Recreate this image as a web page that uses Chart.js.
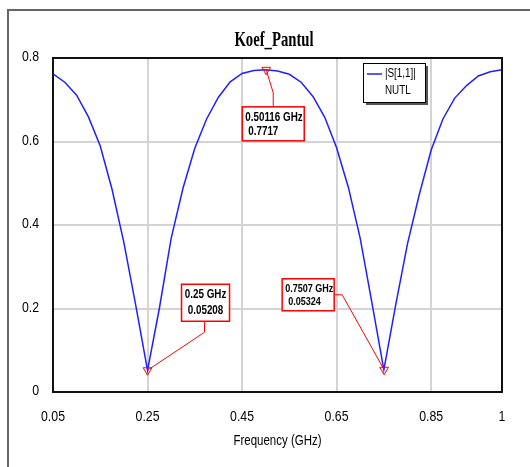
<!DOCTYPE html>
<html>
<head>
<meta charset="utf-8">
<script src="https://cdn.jsdelivr.net/npm/chart.js@4"></script>
<style>
  html, body { margin: 0; padding: 0; background: #fff; }
</style>
</head>
<body>
<canvas id="koef" width="530" height="467"></canvas>
<script>
// frequency sweep (GHz) and |S[1,1]|
const freqs = [0.05, 0.075, 0.1, 0.125, 0.15, 0.175, 0.2, 0.225, 0.25,
  0.275, 0.3, 0.325, 0.35, 0.375, 0.4, 0.425, 0.45, 0.475, 0.5,
  0.525, 0.55, 0.575, 0.6, 0.625, 0.65, 0.675, 0.7, 0.725, 0.75,
  0.775, 0.8, 0.825, 0.85, 0.875, 0.9, 0.925, 0.95, 0.975, 1]
const s11 = [0.762, 0.742, 0.711, 0.659, 0.589, 0.485, 0.358, 0.208, 0.052,
  0.200, 0.368, 0.488, 0.584, 0.654, 0.706, 0.743, 0.763, 0.770, 0.7717,
  0.769, 0.761, 0.742, 0.708, 0.658, 0.585, 0.490, 0.368, 0.212, 0.053,
  0.208, 0.355, 0.473, 0.579, 0.654, 0.704, 0.734, 0.757, 0.767, 0.772]

// markers
const markerFreqs = [0.25, 0.50116, 0.7507]
const markerVals = [0.05208, 0.7717, 0.05324]
const markerText = [['0.25 GHz', '0.05208'], ['0.50116 GHz', '0.7717'], ['0.7507 GHz', '0.05324']]

const xTicks = [0.05, 0.25, 0.45, 0.65, 0.85, 1]
const yTicks = [0, 0.2, 0.4, 0.6, 0.8]

const sans = "'Liberation Sans', Arial, sans-serif"
const SQUEEZE = 0.82 // no narrow font installed, so squash Liberation Sans

// box placement relative to each marker (px); leader goes from marker outward
const boxes = [
  { dx: 34, dy: -86, w: 48, h: 37, leader: [[57, -38], [57, -49]], align: 'center', size: 12 },
  { dx: -24, dy: 37, w: 62, h: 34, leader: [[7, 23], [7, 37]], align: 'left', size: 12 },
  { dx: -102, dy: -91, w: 52, h: 32, leader: [[-42, -75], [-51, -75]], align: 'left', size: 11 }
]

function squeezedText(ctx, text, x, y, font, align, sx) {
  ctx.save()
  ctx.translate(x, y)
  ctx.scale(sx, 1)
  ctx.font = font
  ctx.textAlign = align
  ctx.textBaseline = 'middle'
  ctx.fillText(text, 0, 0)
  ctx.restore()
}

const decor = {
  id: 'decor',
  beforeDraw(chart) {
    const ctx = chart.ctx
    ctx.save()
    // outer frame
    ctx.strokeStyle = '#666'
    ctx.lineWidth = 2
    ctx.beginPath()
    ctx.moveTo(8, 467)
    ctx.lineTo(8, 10)
    ctx.lineTo(530, 10)
    ctx.stroke()
    ctx.fillStyle = '#000'
    // title, condensed serif
    squeezedText(ctx, 'Koef_Pantul', 274, 41, "bold 21px 'Liberation Serif', serif", 'center', 0.7)
    ctx.restore()
  },
  afterDatasetsDraw(chart) {
    const ctx = chart.ctx
    const a = chart.chartArea
    const xs = chart.scales.x, ys = chart.scales.y
    ctx.save()
    // plot border
    ctx.strokeStyle = '#111'
    ctx.lineWidth = 2
    ctx.strokeRect(a.left, a.top, a.right - a.left, a.bottom - a.top)

    // tick labels and axis title
    ctx.fillStyle = '#000'
    xTicks.forEach(v => {
      squeezedText(ctx, String(v), xs.getPixelForValue(v), a.bottom + 25, '15px ' + sans, 'center', SQUEEZE)
    })
    yTicks.forEach(v => {
      squeezedText(ctx, String(v), a.left - 14, ys.getPixelForValue(v) - 1, '15px ' + sans, 'right', SQUEEZE)
    })
    squeezedText(ctx, 'Frequency (GHz)', (a.left + a.right) / 2, a.bottom + 49, '14px ' + sans, 'center', SQUEEZE)

    // marker boxes
    markerFreqs.forEach((f, i) => {
      const px = xs.getPixelForValue(f)
      const py = ys.getPixelForValue(markerVals[i])
      const b = boxes[i]
      ctx.strokeStyle = '#f00'
      ctx.lineWidth = 1
      ctx.beginPath()
      ctx.moveTo(px, py)
      b.leader.forEach(p => ctx.lineTo(px + p[0], py + p[1]))
      ctx.stroke()
      const bx = px + b.dx, by = py + b.dy
      ctx.fillStyle = '#fff'
      ctx.fillRect(bx, by, b.w, b.h)
      ctx.lineWidth = 1.5
      ctx.strokeRect(bx, by, b.w, b.h)
      ctx.fillStyle = '#000'
      const font = 'bold ' + b.size + 'px ' + sans
      const lines = markerText[i]
      if (b.align === 'center') {
        squeezedText(ctx, lines[0], bx + b.w / 2, by + b.h * 0.28, font, 'center', SQUEEZE)
        squeezedText(ctx, lines[1], bx + b.w / 2, by + b.h * 0.72, font, 'center', SQUEEZE)
      } else {
        squeezedText(ctx, lines[0], bx + 3, by + b.h * 0.32, font, 'left', SQUEEZE)
        squeezedText(ctx, lines[1], bx + 6, by + b.h * 0.74, font, 'left', SQUEEZE)
      }
    })

    // legend
    ctx.fillStyle = '#555'
    ctx.fillRect(366, 66, 62, 39)
    ctx.fillStyle = '#fff'
    ctx.fillRect(363, 63, 62, 39)
    ctx.strokeStyle = '#000'
    ctx.lineWidth = 1
    ctx.strokeRect(363.5, 63.5, 62, 39)
    ctx.strokeStyle = '#2020ff'
    ctx.lineWidth = 1.5
    ctx.beginPath()
    ctx.moveTo(367, 74)
    ctx.lineTo(382, 74)
    ctx.stroke()
    ctx.fillStyle = '#000'
    squeezedText(ctx, '|S[1,1]|', 385, 74, '12px ' + sans, 'left', SQUEEZE)
    squeezedText(ctx, 'NUTL', 385, 91, '12px ' + sans, 'left', SQUEEZE)
    ctx.restore()
  }
}

const ctxKoef = document.getElementById('koef')
if(ctxKoef) {
  const koef = {
    type: 'scatter',
    data: {
      datasets: [
        {
          label: '|S[1,1]|',
          data: freqs.map((f, i) => ({ x: f, y: s11[i] })),
          showLine: true,
          borderColor: '#2020ff',
          borderWidth: 1.5,
          pointRadius: 0,
          tension: 0,
          order: 2,
        },
        {
          label: 'markers',
          data: markerFreqs.map((f, i) => ({ x: f, y: markerVals[i] })),
          showLine: false,
          pointStyle: 'triangle',
          rotation: 180,
          pointRadius: 5,
          borderColor: '#f00',
          borderWidth: 1,
          backgroundColor: 'rgba(0,0,0,0)',
          order: 1,
        },
      ],
    },
    options: {
      responsive: false,
      animation: false,
      layout: { padding: { top: 58, right: 28, left: 0, bottom: 0 } },
      plugins: {
        legend: { display: false },
        title: { display: false },
        tooltip: { enabled: false },
      },
      scales: {
        x: {
          type: 'linear',
          min: 0.05,
          max: 1,
          afterBuildTicks: s => { s.ticks = xTicks.map(v => ({ value: v })) },
          afterFit: s => { s.height = 75 },
          grid: { color: '#d4d4d4', lineWidth: 2, drawTicks: false },
          border: { display: false },
          // labels are drawn squeezed by the decor plugin
          ticks: { display: false },
        },
        y: {
          min: 0,
          max: 0.8,
          afterBuildTicks: s => { s.ticks = yTicks.map(v => ({ value: v })) },
          afterFit: s => { s.width = 53 },
          grid: { color: '#d4d4d4', lineWidth: 2, drawTicks: false },
          border: { display: false },
          ticks: { display: false },
        },
      },
    },
    plugins: [decor],
  }

  window.myChart = new Chart(ctxKoef, koef)
}
</script>
</body>
</html>
